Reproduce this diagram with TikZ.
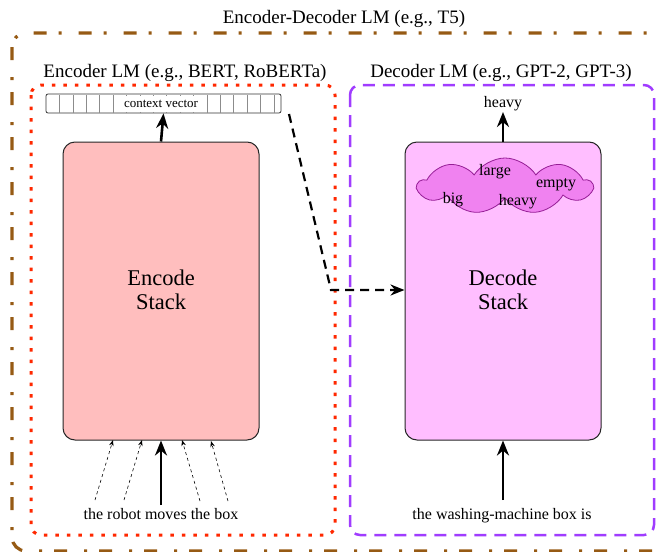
\documentclass[tikz,border=0pt]{standalone}
\usepackage{fontspec}
\setmainfont{Liberation Serif}
\usetikzlibrary{arrows.meta,shapes.symbols}
\definecolor{brownc}{RGB}{150,90,20}
\definecolor{redc}{RGB}{255,40,0}
\definecolor{purplec}{RGB}{160,60,255}
\definecolor{encfill}{RGB}{255,190,190}
\definecolor{decfill}{RGB}{255,190,255}
\definecolor{cloudfill}{RGB}{240,130,240}
\definecolor{clouddraw}{RGB}{150,30,150}
\tikzset{
  stackbox/.style={draw=black!85, line width=1pt, rounded corners=12pt},
  lbl/.style={font=\fontsize{19}{22}\selectfont, inner sep=0pt, anchor=base},
  txt/.style={font=\fontsize{16}{18}\selectfont, inner sep=0pt, anchor=base},
  bigtxt/.style={font=\fontsize{22.5}{24}\selectfont, align=center},
  thickarrow/.style={line width=2.6pt, -{Stealth[length=15pt,width=12pt]}},
  thinarrow/.style={line width=0.6pt, dashed, -{Stealth[length=6pt,width=4.5pt]}},
  cloudword/.style={font=\fontsize{16}{18}\selectfont, inner sep=0pt, anchor=base},
}
\begin{document}
\begin{tikzpicture}[x=1pt,y=-1pt]
\useasboundingbox (0,0) rectangle (662,552);
\begin{scope}
\clip (0,0) rectangle (662,552);
% outer box
\draw[brownc, line width=3.2pt, rounded corners=14pt, dash pattern=on 13pt off 17pt on 3pt off 12pt] (12,33) rectangle (675,551);
\end{scope}
\node[lbl] (title) at (344,23) {Encoder-Decoder LM (e.g., T5)};
% encoder box
\draw[redc, line width=3pt, rounded corners=10pt, dash pattern=on 3.5pt off 8pt] (31,85) rectangle (335,535);
\node[lbl] (enclbl) at (185,77) {Encoder LM (e.g., BERT, RoBERTa)};
% decoder box
\draw[purplec, line width=2.5pt, rounded corners=10pt, dash pattern=on 12pt off 8pt] (350,85) rectangle (654,535);
\node[lbl] (declbl) at (501,77) {Decoder LM (e.g., GPT-2, GPT-3)};
% context vector
\node[draw=black!80, line width=0.8pt, rounded corners=2pt, minimum width=235pt, minimum height=19pt, inner sep=0pt] (cv) at (163.5,103.5) {};
\foreach \k in {1,...,17} {
  \draw[black!45, line width=0.6pt] ({46+\k*13.4},95) -- ({46+\k*13.4},112.5);
}
\node[fill=white, font=\fontsize{13}{14}\selectfont, inner sep=0pt, minimum width=92pt, minimum height=16pt] (cvtext) at (161,104) {context vector};
% encode stack
\node[stackbox, fill=encfill, minimum width=196pt, minimum height=298pt] (enc) at (161,291) {};
\node[bigtxt] (enctext) at (161,290) {Encode\\Stack};
% decode stack
\node[stackbox, fill=decfill, minimum width=196pt, minimum height=298pt] (dec) at (503,291) {};
\node[bigtxt] (dectext) at (503,290) {Decode\\Stack};
% cloud
\node[cloud, draw=clouddraw, line width=0.8pt, fill=cloudfill, cloud puffs=9, cloud puff arc=115, aspect=3.2, minimum width=174pt, minimum height=56pt, inner sep=0pt] (cloud) at (505,186) {};
\node[cloudword] (w1) at (495,175) {large};
\node[cloudword] (w2) at (556,187) {empty};
\node[cloudword] (w3) at (453,203) {big};
\node[cloudword] (w4) at (518,205) {heavy};
% arrows encoder
\draw[thickarrow] (enc.north) -- (cv.south);
\node[txt] (enctxt) at (161,519) {the robot moves the box};
\coordinate (ein) at (161,505);
\draw[thickarrow] (ein) -- (enc.south);
\coordinate (e1) at (95,500);
\coordinate (e2) at (124,500);
\coordinate (e3) at (200,501);
\coordinate (e4) at (228,501);
\coordinate (t1) at (113,440);
\coordinate (t2) at (142,440);
\coordinate (t3) at (182,440);
\coordinate (t4) at (211,441);
\draw[thinarrow] (e1) -- (t1);
\draw[thinarrow] (e2) -- (t2);
\draw[thinarrow] (e3) -- (t3);
\draw[thinarrow] (e4) -- (t4);
% decoder arrows
\node[txt] (out) at (503,107) {heavy};
\coordinate (outb) at (503,112);
\draw[thickarrow] (dec.north) -- (outb);
\node[txt] (dectxt) at (502,519) {the washing-machine box is};
\coordinate (din) at (503,500);
\draw[thickarrow] (din) -- (dec.south);
% context transfer
\coordinate (cvout) at (289,114);
\coordinate (bend) at (331,290);
\draw[line width=2.2pt, dash pattern=on 9pt off 6pt, -{Stealth[length=14pt,width=11pt]}] (cvout) -- (bend) -- (dec.west |- bend);
\end{tikzpicture}
\end{document}
